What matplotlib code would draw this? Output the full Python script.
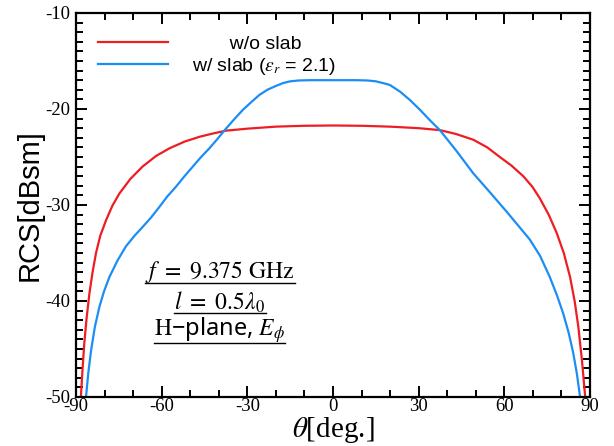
import numpy as np
import matplotlib.pyplot as plt
from matplotlib.lines import Line2D
from matplotlib.ticker import MultipleLocator

plt.rcParams['mathtext.fontset'] = 'stix'
plt.rcParams['axes.unicode_minus'] = False

# w/o slab (red)
theta_red = [-88.3, -87.8, -87.1, -86.3, -85.3, -84.2, -83.0, -81.5, -79.5, -77.3,
             -74.8, -71.0, -66.7, -62.0, -57.3, -52.0, -46.8, -42.0, -37.5, -30.0,
             -20.0, -10.0, 0.0, 10.0, 19.9, 30.0, 37.4, 43.0, 49.1, 54.0,
             58.4, 62.5, 66.6, 69.8, 72.4, 75.5, 78.3, 80.8, 83.0, 84.6,
             85.9, 87.2, 88.3]
rcs_red = [-50.0, -47.5, -44.4, -41.8, -39.2, -37.0, -35.0, -33.2, -31.6, -30.1,
           -28.8, -27.3, -26.0, -24.9, -24.1, -23.4, -22.9, -22.55, -22.26, -22.05,
           -21.84, -21.75, -21.72, -21.75, -21.84, -22.0, -22.2, -22.6, -23.2, -24.0,
           -25.0, -25.9, -27.0, -28.1, -29.3, -31.0, -32.9, -35.0, -37.5, -40.0,
           -42.7, -46.3, -50.0]

# w/ slab, eps_r = 2.1 (blue)
theta_blue = [-86.5, -85.7, -84.7, -83.4, -81.8, -80.2, -78.3, -75.5, -72.5, -69.5,
              -66.7, -63.7, -60.8, -58.0, -55.0, -52.0, -49.1, -46.2, -43.3, -40.7,
              -38.1, -35.0, -31.6, -28.5, -25.8, -23.0, -20.0, -17.5, -15.0, -12.0,
              -8.0, 0.0, 8.0, 12.0, 15.0, 17.5, 19.9, 23.5, 26.9, 30.5,
              34.0, 37.4, 43.3, 49.1, 55.0, 60.8, 65.0, 68.9, 72.5, 75.9,
              78.4, 80.6, 82.5, 84.1, 85.4, 86.5]
rcs_blue = [-50.0, -47.5, -45.1, -42.7, -40.6, -39.0, -37.5, -35.8, -34.3, -33.2,
            -32.3, -31.3, -30.2, -29.1, -28.1, -27.0, -26.0, -25.0, -24.1, -23.2,
            -22.26, -21.2, -20.1, -19.25, -18.54, -18.0, -17.6, -17.3, -17.12, -17.03,
            -17.0, -17.0, -17.0, -17.03, -17.12, -17.3, -17.5, -18.2, -19.06, -20.1,
            -21.2, -22.2, -24.4, -26.7, -28.7, -30.7, -32.2, -33.6, -35.3, -37.5,
            -39.4, -41.3, -43.3, -45.4, -47.6, -50.0]

labels = ['       w/o slab', r'w/ slab ($\varepsilon_r$ = 2.1)']
notes = [r'$f\ =\ 9.375\ \mathrm{GHz}$', r'$l\ =\ 0.5\lambda_0$',
         r'$\mathrm{H}$' + '\u2212plane, ' + r'$E_{\phi}$']
note_fonts = ['Liberation Serif', 'Liberation Serif', 'Noto Sans']

fig = plt.figure(figsize=(6.14, 4.46), dpi=100)
ax = fig.add_axes([0.1238, 0.1099, 0.961 - 0.1238, 0.9709 - 0.1099])

ax.plot(theta_red, rcs_red, color='#ee1d23', lw=1.6, label=labels[0])
ax.plot(theta_blue, rcs_blue, color='#1b8ef5', lw=1.6, label=labels[1])

ax.set_xlim(-90, 90)
ax.set_ylim(-50, -10)
ax.xaxis.set_major_locator(MultipleLocator(30))
ax.xaxis.set_minor_locator(MultipleLocator(10))
ax.yaxis.set_major_locator(MultipleLocator(10))
ax.yaxis.set_minor_locator(MultipleLocator(1))
ax.tick_params(which='both', direction='in', top=True, right=True, width=1.4)
ax.tick_params(which='major', length=8)
ax.tick_params(which='minor', length=5)
ax.tick_params(axis='x', pad=1)
ax.tick_params(axis='y', pad=4)
for lab in ax.get_xticklabels() + ax.get_yticklabels():
    lab.set_family('Liberation Serif')
    lab.set_fontsize(13.5)
for s in ax.spines.values():
    s.set_linewidth(1.6)

ax.set_xlabel(r'$\theta$[deg.]', family='Liberation Serif', fontsize=21, labelpad=0)
ax.set_ylabel('RCS[dBsm]', family='Liberation Sans', fontsize=21, labelpad=1)

leg = ax.legend(loc='upper left', bbox_to_anchor=(0.0, 1.0), frameon=False,
                prop={'family': 'Liberation Sans', 'size': 14},
                handlelength=3.6, handletextpad=1.2, labelspacing=0.15,
                borderaxespad=0.75)

note_y = [0.326, 0.247, 0.174]
texts = []
for t, yy, fam in zip(notes, note_y, note_fonts):
    texts.append(ax.text(0.28, yy, t, transform=ax.transAxes, ha='center', va='center',
                         fontsize=17, family=fam))

# underline each note
fig.canvas.draw()
r = fig.canvas.get_renderer()
inv = fig.transFigure.inverted()
for t in texts:
    bb = t.get_window_extent(r)
    (x0, y0), (x1, _) = inv.transform([(bb.x0, bb.y0 + 2), (bb.x1, bb.y0 + 2)])
    fig.add_artist(Line2D([x0, x1], [y0, y0], color='black', lw=1.0, transform=fig.transFigure))

fig.savefig('out.png', dpi=100)
